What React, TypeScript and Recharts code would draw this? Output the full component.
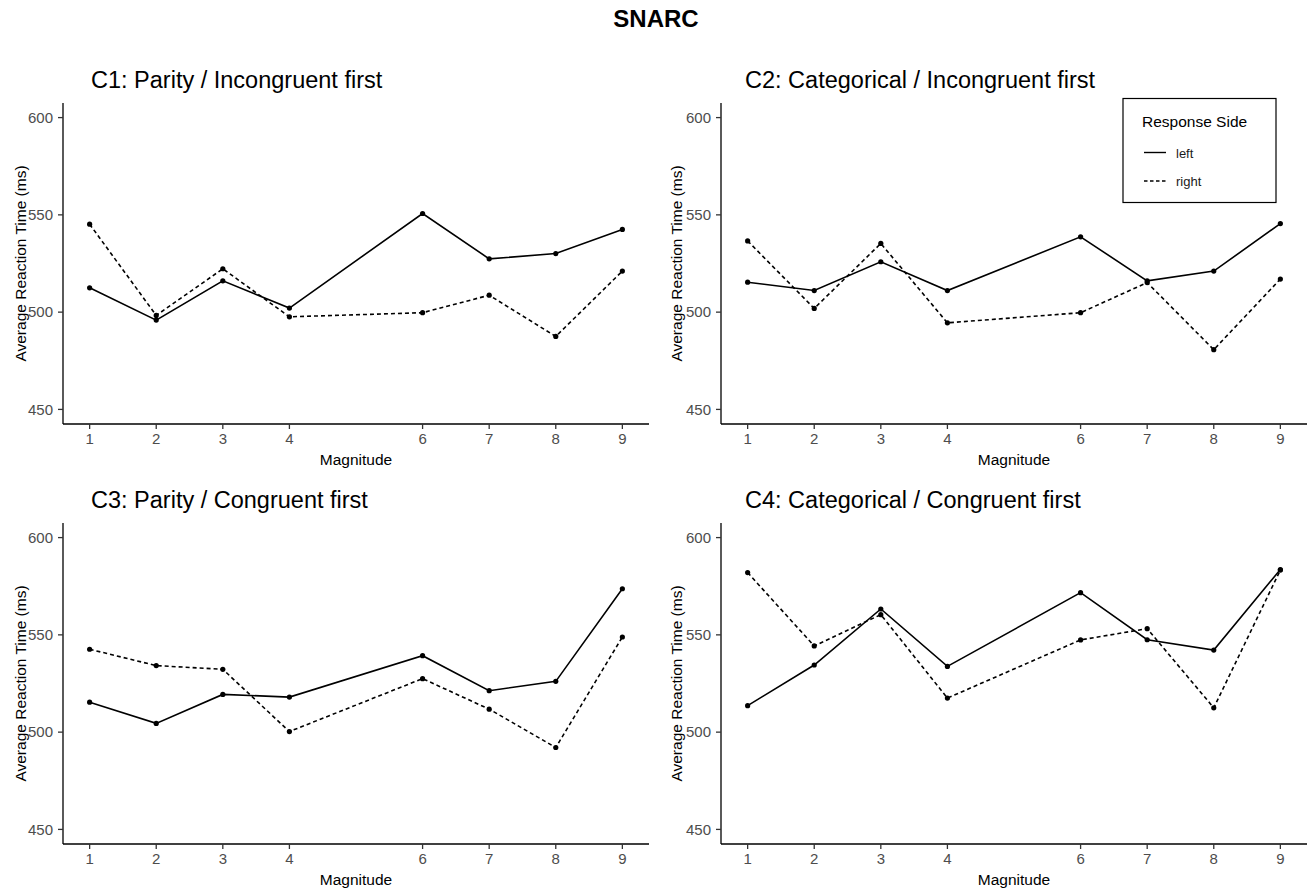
import { LineChart, Line, XAxis, YAxis } from 'recharts';

// x positions (magnitude 5 not shown)
const magnitudes = [1, 2, 3, 4, 6, 7, 8, 9];
const yTicks = [450, 500, 550, 600];

// C1: Parity / Incongruent first
const c1Left = [512.5, 495.9, 516.1, 502.1, 550.7, 527.4, 530.1, 542.5];
const c1Right = [545.2, 498.3, 522.3, 497.6, 499.7, 508.7, 487.5, 521.1];
// C2: Categorical / Incongruent first
const c2Left = [515.4, 511.1, 525.9, 511.1, 538.7, 516.1, 521.1, 545.5];
const c2Right = [536.6, 501.9, 535.3, 494.5, 499.7, 515.2, 480.7, 517.0];
// C3: Parity / Congruent first
const c3Left = [515.4, 504.5, 519.4, 518.0, 539.3, 521.3, 526.1, 573.7];
const c3Right = [542.6, 534.2, 532.3, 500.3, 527.5, 511.8, 492.1, 548.9];
// C4: Categorical / Congruent first
const c4Left = [513.6, 534.5, 563.3, 533.8, 571.7, 547.5, 542.2, 583.6];
const c4Right = [582.0, 544.3, 560.4, 517.5, 547.4, 553.2, 512.5, 583.3];

const FONT = '"Liberation Sans", Arial, Helvetica, sans-serif';

const makeRows = (left: number[], right: number[]) =>
  magnitudes.map((m, i) => ({ magnitude: m, left: left[i], right: right[i] }));

interface PanelProps {
  left: number[];
  right: number[];
  x: number;
  y: number;
  axisWidth: number;
  rightMargin: number;
  yLabelOffset: number;
}

function Panel({ left, right, x, y, axisWidth, rightMargin, yLabelOffset }: PanelProps) {
  const data = makeRows(left, right);
  return (
    <div style={{ position: 'absolute', left: x, top: y }}>
      <LineChart
        width={654}
        height={408}
        data={data}
        margin={{ top: 43, right: rightMargin, left: 0, bottom: 0 }}
      >
        <XAxis
          dataKey="magnitude"
          type="number"
          domain={[0.6, 9.4]}
          ticks={magnitudes}
          height={44}
          tickSize={5}
          tickMargin={4.5}
          tick={{ fill: '#4D4D4D', fontSize: 15, fontFamily: FONT }}
          axisLine={{ stroke: '#000', strokeWidth: 1.3 }}
          tickLine={{ stroke: '#333', strokeWidth: 1.3 }}
          label={{
            value: 'Magnitude',
            position: 'insideBottom',
            offset: 3,
            style: { fill: '#000', fontSize: 15.5, fontFamily: FONT },
          }}
        />
        <YAxis
          type="number"
          domain={[442.5, 607.5]}
          ticks={yTicks}
          width={axisWidth}
          tickSize={5}
          tickMargin={5}
          tick={{ fill: '#4D4D4D', fontSize: 15, fontFamily: FONT }}
          axisLine={{ stroke: '#000', strokeWidth: 1.3 }}
          tickLine={{ stroke: '#333', strokeWidth: 1.3 }}
          label={{
            value: 'Average Reaction Time (ms)',
            angle: -90,
            position: 'insideLeft',
            offset: yLabelOffset,
            style: { fill: '#000', fontSize: 15.5, fontFamily: FONT, textAnchor: 'middle' },
          }}
        />
        <Line
          type="linear"
          dataKey="left"
          stroke="#000"
          strokeWidth={1.6}
          dot={{ r: 2.6, fill: '#000', stroke: 'none' }}
          activeDot={false}
          isAnimationActive={false}
        />
        <Line
          type="linear"
          dataKey="right"
          stroke="#000"
          strokeWidth={1.6}
          strokeDasharray="4 3"
          dot={{ r: 2.6, fill: '#000', stroke: 'none' }}
          activeDot={false}
          isAnimationActive={false}
        />
      </LineChart>
    </div>
  );
}

export default function App() {
  return (
    <div
      style={{
        position: 'absolute',
        left: 0,
        top: 0,
        width: 1308,
        height: 888,
        overflow: 'hidden',
        background: '#fff',
        fontFamily: FONT,
      }}
    >
      <Panel left={c1Left} right={c1Right} x={0} y={60} axisWidth={63} rightMargin={5} yLabelOffset={20} />
      <Panel left={c2Left} right={c2Right} x={654} y={60} axisWidth={67} rightMargin={1} yLabelOffset={22} />
      <Panel left={c3Left} right={c3Right} x={0} y={480} axisWidth={63} rightMargin={5} yLabelOffset={20} />
      <Panel left={c4Left} right={c4Right} x={654} y={480} axisWidth={67} rightMargin={1} yLabelOffset={22} />

      <svg
        width={1308}
        height={888}
        style={{ position: 'absolute', left: 0, top: 0, pointerEvents: 'none' }}
      >
        <text x={656} y={27} textAnchor="middle" fontSize={24} fontWeight="bold" fontFamily={FONT} fill="#000">
          SNARC
        </text>
        <text x={91} y={88} fontSize={23.5} fontFamily={FONT} fill="#000">C1: Parity / Incongruent first</text>
        <text x={745} y={88} fontSize={23.5} fontFamily={FONT} fill="#000">C2: Categorical / Incongruent first</text>
        <text x={91} y={508} fontSize={23.5} fontFamily={FONT} fill="#000">C3: Parity / Congruent first</text>
        <text x={745} y={508} fontSize={23.5} fontFamily={FONT} fill="#000">C4: Categorical / Congruent first</text>

        {/* legend */}
        <rect x={1123} y={98.5} width={153} height={104} fill="#fff" stroke="#000" strokeWidth={1.2} />
        <text x={1142} y={127} fontSize={15.5} fontFamily={FONT} fill="#000">Response Side</text>
        <line x1={1144} x2={1166} y1={152.5} y2={152.5} stroke="#000" strokeWidth={1.4} />
        <text x={1176} y={157.5} fontSize={13} fontFamily={FONT} fill="#1a1a1a">left</text>
        <line x1={1144} x2={1166} y1={181} y2={181} stroke="#000" strokeWidth={1.4} strokeDasharray="3.5 2.5" />
        <text x={1176} y={186} fontSize={13} fontFamily={FONT} fill="#1a1a1a">right</text>
      </svg>
    </div>
  );
}
